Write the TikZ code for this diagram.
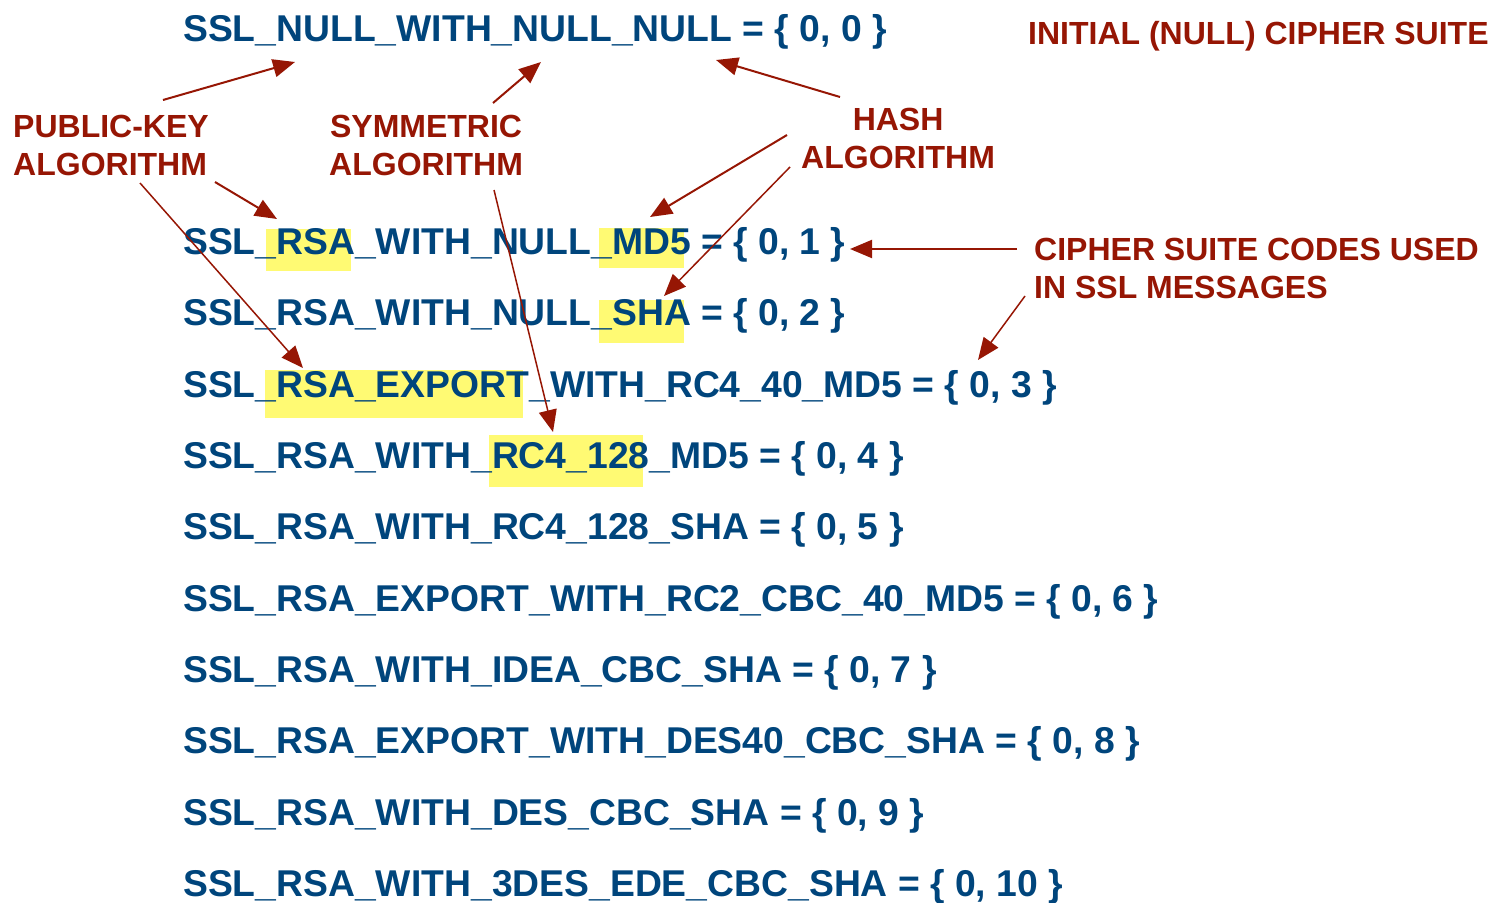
\documentclass[tikz,border=0pt]{standalone}
\usepackage{fontspec}
\setmainfont{Liberation Sans}
\usetikzlibrary{arrows.meta}
\definecolor{suiteblue}{RGB}{0,69,124}
\definecolor{labelred}{RGB}{150,22,4}
\definecolor{hlyellow}{RGB}{255,250,115}
\begin{document}
\begin{tikzpicture}[x=1bp,y=-1bp,
  suite/.style={anchor=base west, inner sep=0pt, text=suiteblue,
    font=\fontsize{37.3bp}{40bp}\selectfont\bfseries},
  lbl/.style={inner sep=0pt, text=labelred,
    font=\fontsize{32bp}{38bp}\selectfont\bfseries},
  hlbox/.style={fill=hlyellow, draw=none},
  arr/.style={draw=labelred, line width=2bp, -{Triangle[length=22bp,width=18bp]}},
  thinarr/.style={arr, line width=1.5bp}
]
\useasboundingbox (0,0) rectangle (1495,902);

% highlight boxes
\fill[hlyellow] (266,229) rectangle (351,271);
\fill[hlyellow] (599,228) rectangle (684,268);
\fill[hlyellow] (599,300) rectangle (684,343);
\fill[hlyellow] (265,370) rectangle (523,418);
\fill[hlyellow] (489,435) rectangle (643,487);

% cipher suite rows
\node[suite] (s0) at (183,41) {SSL\_NULL\_WITH\_NULL\_NULL = \{ 0, 0 \}};
\node[suite] (s1) at (183,254) {SSL\_RSA\_WITH\_NULL\_MD5 = \{ 0, 1 \}};
\node[suite] (s2) at (183,325.5) {SSL\_RSA\_WITH\_NULL\_SHA = \{ 0, 2 \}};
\node[suite] (s3) at (183,397) {SSL\_RSA\_EXPORT\_WITH\_RC4\_40\_MD5 = \{ 0, 3 \}};
\node[suite] (s4) at (183,468) {SSL\_RSA\_WITH\_RC4\_128\_MD5 = \{ 0, 4 \}};
\node[suite] (s5) at (183,539.5) {SSL\_RSA\_WITH\_RC4\_128\_SHA = \{ 0, 5 \}};
\node[suite] (s6) at (183,611) {SSL\_RSA\_EXPORT\_WITH\_RC2\_CBC\_40\_MD5 = \{ 0, 6 \}};
\node[suite] (s7) at (183,682) {SSL\_RSA\_WITH\_IDEA\_CBC\_SHA = \{ 0, 7 \}};
\node[suite] (s8) at (183,753.5) {SSL\_RSA\_EXPORT\_WITH\_DES40\_CBC\_SHA = \{ 0, 8 \}};
\node[suite] (s9) at (183,825) {SSL\_RSA\_WITH\_DES\_CBC\_SHA = \{ 0, 9 \}};
\node[suite] (s10) at (183,896) {SSL\_RSA\_WITH\_3DES\_EDE\_CBC\_SHA = \{ 0, 10 \}};

% labels (base anchor = baseline of last line)
\node[lbl, anchor=base west] (init) at (1028,44) {INITIAL (NULL) CIPHER SUITE};
\node[lbl, anchor=base west, align=left] (pk) at (13,175) {PUBLIC-KEY\\ALGORITHM};
\node[lbl, anchor=base west, align=center] (sym) at (329,175) {SYMMETRIC\\ALGORITHM};
\node[lbl, anchor=base west, align=center] (hash) at (801,168) {HASH\\ALGORITHM};
\node[lbl, anchor=base west, align=left] (codes) at (1034,298) {CIPHER SUITE CODES USED\\IN SSL MESSAGES};

% arrow end points
\coordinate (pkA) at (163,100);   \coordinate (nullPK) at (295,62);
\coordinate (symA) at (493,103);  \coordinate (nullSym) at (541,62);
\coordinate (hashA) at (840,97);  \coordinate (nullHash) at (716,60);
\coordinate (pkB) at (215,182);   \coordinate (rsa1) at (277,219);
\coordinate (pkC) at (140,183);   \coordinate (rsaExp) at (303,368);
\coordinate (symB) at (494,190);  \coordinate (rc4) at (553,432);
\coordinate (hashB) at (787,135); \coordinate (md5) at (650,217);
\coordinate (hashC) at (790,167); \coordinate (sha) at (664,296);
\coordinate (codesA) at (1017,249); \coordinate (code1) at (850,249);
\coordinate (codesB) at (1025,296); \coordinate (code3) at (978,360);

\draw[arr] (pkA) -- (nullPK);
\draw[arr] (symA) -- (nullSym);
\draw[arr] (hashA) -- (nullHash);
\draw[arr] (pkB) -- (rsa1);
\draw[thinarr] (pkC) -- (rsaExp);
\draw[thinarr] (symB) -- (rc4);
\draw[arr] (hashB) -- (md5);
\draw[thinarr] (hashC) -- (sha);
\draw[arr] (codesA) -- (code1);
\draw[thinarr] (codesB) -- (code3);
\end{tikzpicture}
\end{document}
